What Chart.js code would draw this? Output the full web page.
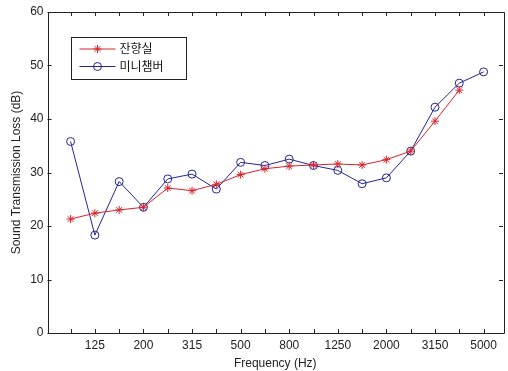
<!DOCTYPE html>
<html>
<head>
<meta charset="utf-8">
<script src="https://cdn.jsdelivr.net/npm/chart.js@4/dist/chart.umd.min.js"></script>
<style>
  html, body { margin: 0; padding: 0; background: #fff; }
  #wrap { width: 508px; height: 371px; }
</style>
</head>
<body>
<div id="wrap"><canvas id="c" width="508" height="371"></canvas></div>
<script>
// One-third octave band centre frequencies (Hz)
const bands = ['100', '125', '160', '200', '250', '315', '400', '500', '630',
               '800', '1000', '1250', '1600', '2000', '2500', '3150', '4000', '5000'];
// Sound transmission loss (dB) measured in the reverberation room
const reverbRoom = [21.3, 22.4, 23.0, 23.5, 27.1, 26.6, 27.8, 29.6, 30.7,
                    31.2, 31.4, 31.6, 31.4, 32.4, 34.0, 39.6, 45.4, null];
// Sound transmission loss (dB) measured in the mini chamber
const miniChamber = [35.8, 18.3, 28.3, 23.5, 28.8, 29.7, 26.9, 31.9, 31.3,
                     32.5, 31.3, 30.4, 27.9, 29.0, 34.0, 42.2, 46.7, 48.8];
const seriesNames = ['잔향실', '미니챔버'];
const yTicks = [0, 10, 20, 30, 40, 50, 60];

const FONT = 'Arial, "Liberation Sans", "Noto Sans CJK KR", sans-serif';
const RED = '#d8232a';
const BLUE = '#24248f';

const toPoints = arr => arr.map((v, i) => ({ x: i + 1, y: v }));

// Box around the axes with inward-pointing tick marks on all four sides
const boxTicks = {
  id: 'boxTicks',
  afterDatasetsDraw(chart) {
    const { ctx, chartArea: a, scales } = chart;
    const len = 4;
    ctx.save();
    ctx.strokeStyle = '#222';
    ctx.lineWidth = 1;
    ctx.beginPath();
    ctx.rect(Math.round(a.left) + 0.5, Math.round(a.top) + 0.5,
             Math.round(a.right - a.left), Math.round(a.bottom - a.top));
    bands.forEach((_, i) => {
      const x = Math.round(scales.x.getPixelForValue(i + 1)) + 0.5;
      ctx.moveTo(x, a.bottom); ctx.lineTo(x, a.bottom - len);
      ctx.moveTo(x, a.top); ctx.lineTo(x, a.top + len);
    });
    yTicks.forEach(v => {
      const y = Math.round(scales.y.getPixelForValue(v)) + 0.5;
      ctx.moveTo(a.left, y); ctx.lineTo(a.left + len, y);
      ctx.moveTo(a.right, y); ctx.lineTo(a.right - len, y);
    });
    ctx.stroke();
    ctx.restore();
  }
};

// Boxed legend in the upper-left corner of the plot
const boxLegend = {
  id: 'boxLegend',
  afterDraw(chart) {
    const { ctx, chartArea: a } = chart;
    const x0 = Math.round(a.left + 23) + 0.5, y0 = Math.round(a.top + 25) + 0.5;
    const w = 115, h = 42;
    ctx.save();
    ctx.fillStyle = '#fff';
    ctx.strokeStyle = '#222';
    ctx.lineWidth = 1;
    ctx.fillRect(x0, y0, w, h);
    ctx.strokeRect(x0, y0, w, h);
    ctx.font = '12px ' + FONT;
    ctx.textBaseline = 'middle';
    chart.data.datasets.forEach((ds, i) => {
      const y = y0 + 11.5 + i * 17.5;
      ctx.strokeStyle = ds.borderColor;
      ctx.lineWidth = 1;
      ctx.beginPath();
      ctx.moveTo(x0 + 8, y); ctx.lineTo(x0 + 44, y);
      ctx.stroke();
      ctx.fillStyle = ds.pointBackgroundColor;
      ctx.strokeStyle = ds.pointBorderColor;
      Chart.helpers.drawPoint(ctx, {
        pointStyle: ds.pointStyle, radius: ds.pointRadius, rotation: 0,
        borderWidth: ds.pointBorderWidth
      }, x0 + 26, y);
      ctx.fillStyle = '#111';
      ctx.fillText(ds.label, x0 + 48, y + 1);
    });
    ctx.restore();
  }
};

new Chart(document.getElementById('c'), {
  type: 'line',
  data: {
    datasets: [
      {
        label: seriesNames[0],
        data: toPoints(reverbRoom),
        borderColor: RED,
        backgroundColor: RED,
        borderWidth: 1,
        pointStyle: 'star',
        pointRadius: 4,
        pointBorderWidth: 1,
        pointBorderColor: RED,
        pointBackgroundColor: RED,
        tension: 0,
        spanGaps: false
      },
      {
        label: seriesNames[1],
        data: toPoints(miniChamber),
        borderColor: BLUE,
        backgroundColor: BLUE,
        borderWidth: 1,
        pointStyle: 'circle',
        pointRadius: 4,
        pointBorderWidth: 1,
        pointBorderColor: BLUE,
        pointBackgroundColor: 'rgba(0,0,0,0)',
        tension: 0
      }
    ]
  },
  options: {
    responsive: false,
    devicePixelRatio: 1,
    animation: false,
    layout: { padding: { left: 9, right: 2, top: 12, bottom: 0 } },
    plugins: { legend: { display: false }, tooltip: { enabled: false } },
    scales: {
      x: {
        type: 'linear',
        min: 0.05,
        max: 18.8,
        afterBuildTicks(scale) {
          scale.ticks = bands.map((_, i) => ({ value: i + 1 }));
        },
        afterFit(scale) { scale.height = 38; },
        grid: { display: false, drawTicks: false },
        border: { display: false },
        ticks: {
          autoSkip: false,
          maxRotation: 0,
          padding: 5,
          color: '#222',
          font: { family: FONT, size: 12 },
          callback(value) {
            const i = Math.round(value) - 1;
            return i % 2 === 1 ? bands[i] : '';
          }
        },
        title: {
          display: true,
          text: 'Frequency (Hz)',
          color: '#222',
          font: { family: FONT, size: 12 },
          padding: { top: 2, bottom: 0 }
        }
      },
      y: {
        min: 0,
        max: 60,
        afterBuildTicks(scale) {
          scale.ticks = yTicks.map(v => ({ value: v }));
        },
        afterFit(scale) { scale.width = 38.5; },
        grid: { display: false, drawTicks: false },
        border: { display: false },
        ticks: {
          padding: 4,
          color: '#222',
          font: { family: FONT, size: 12 }
        },
        title: {
          display: true,
          text: 'Sound Transmission Loss (dB)',
          color: '#222',
          font: { family: FONT, size: 12 },
          padding: { top: 0, bottom: 0 }
        }
      }
    }
  },
  plugins: [boxTicks, boxLegend]
});
</script>
</body>
</html>
